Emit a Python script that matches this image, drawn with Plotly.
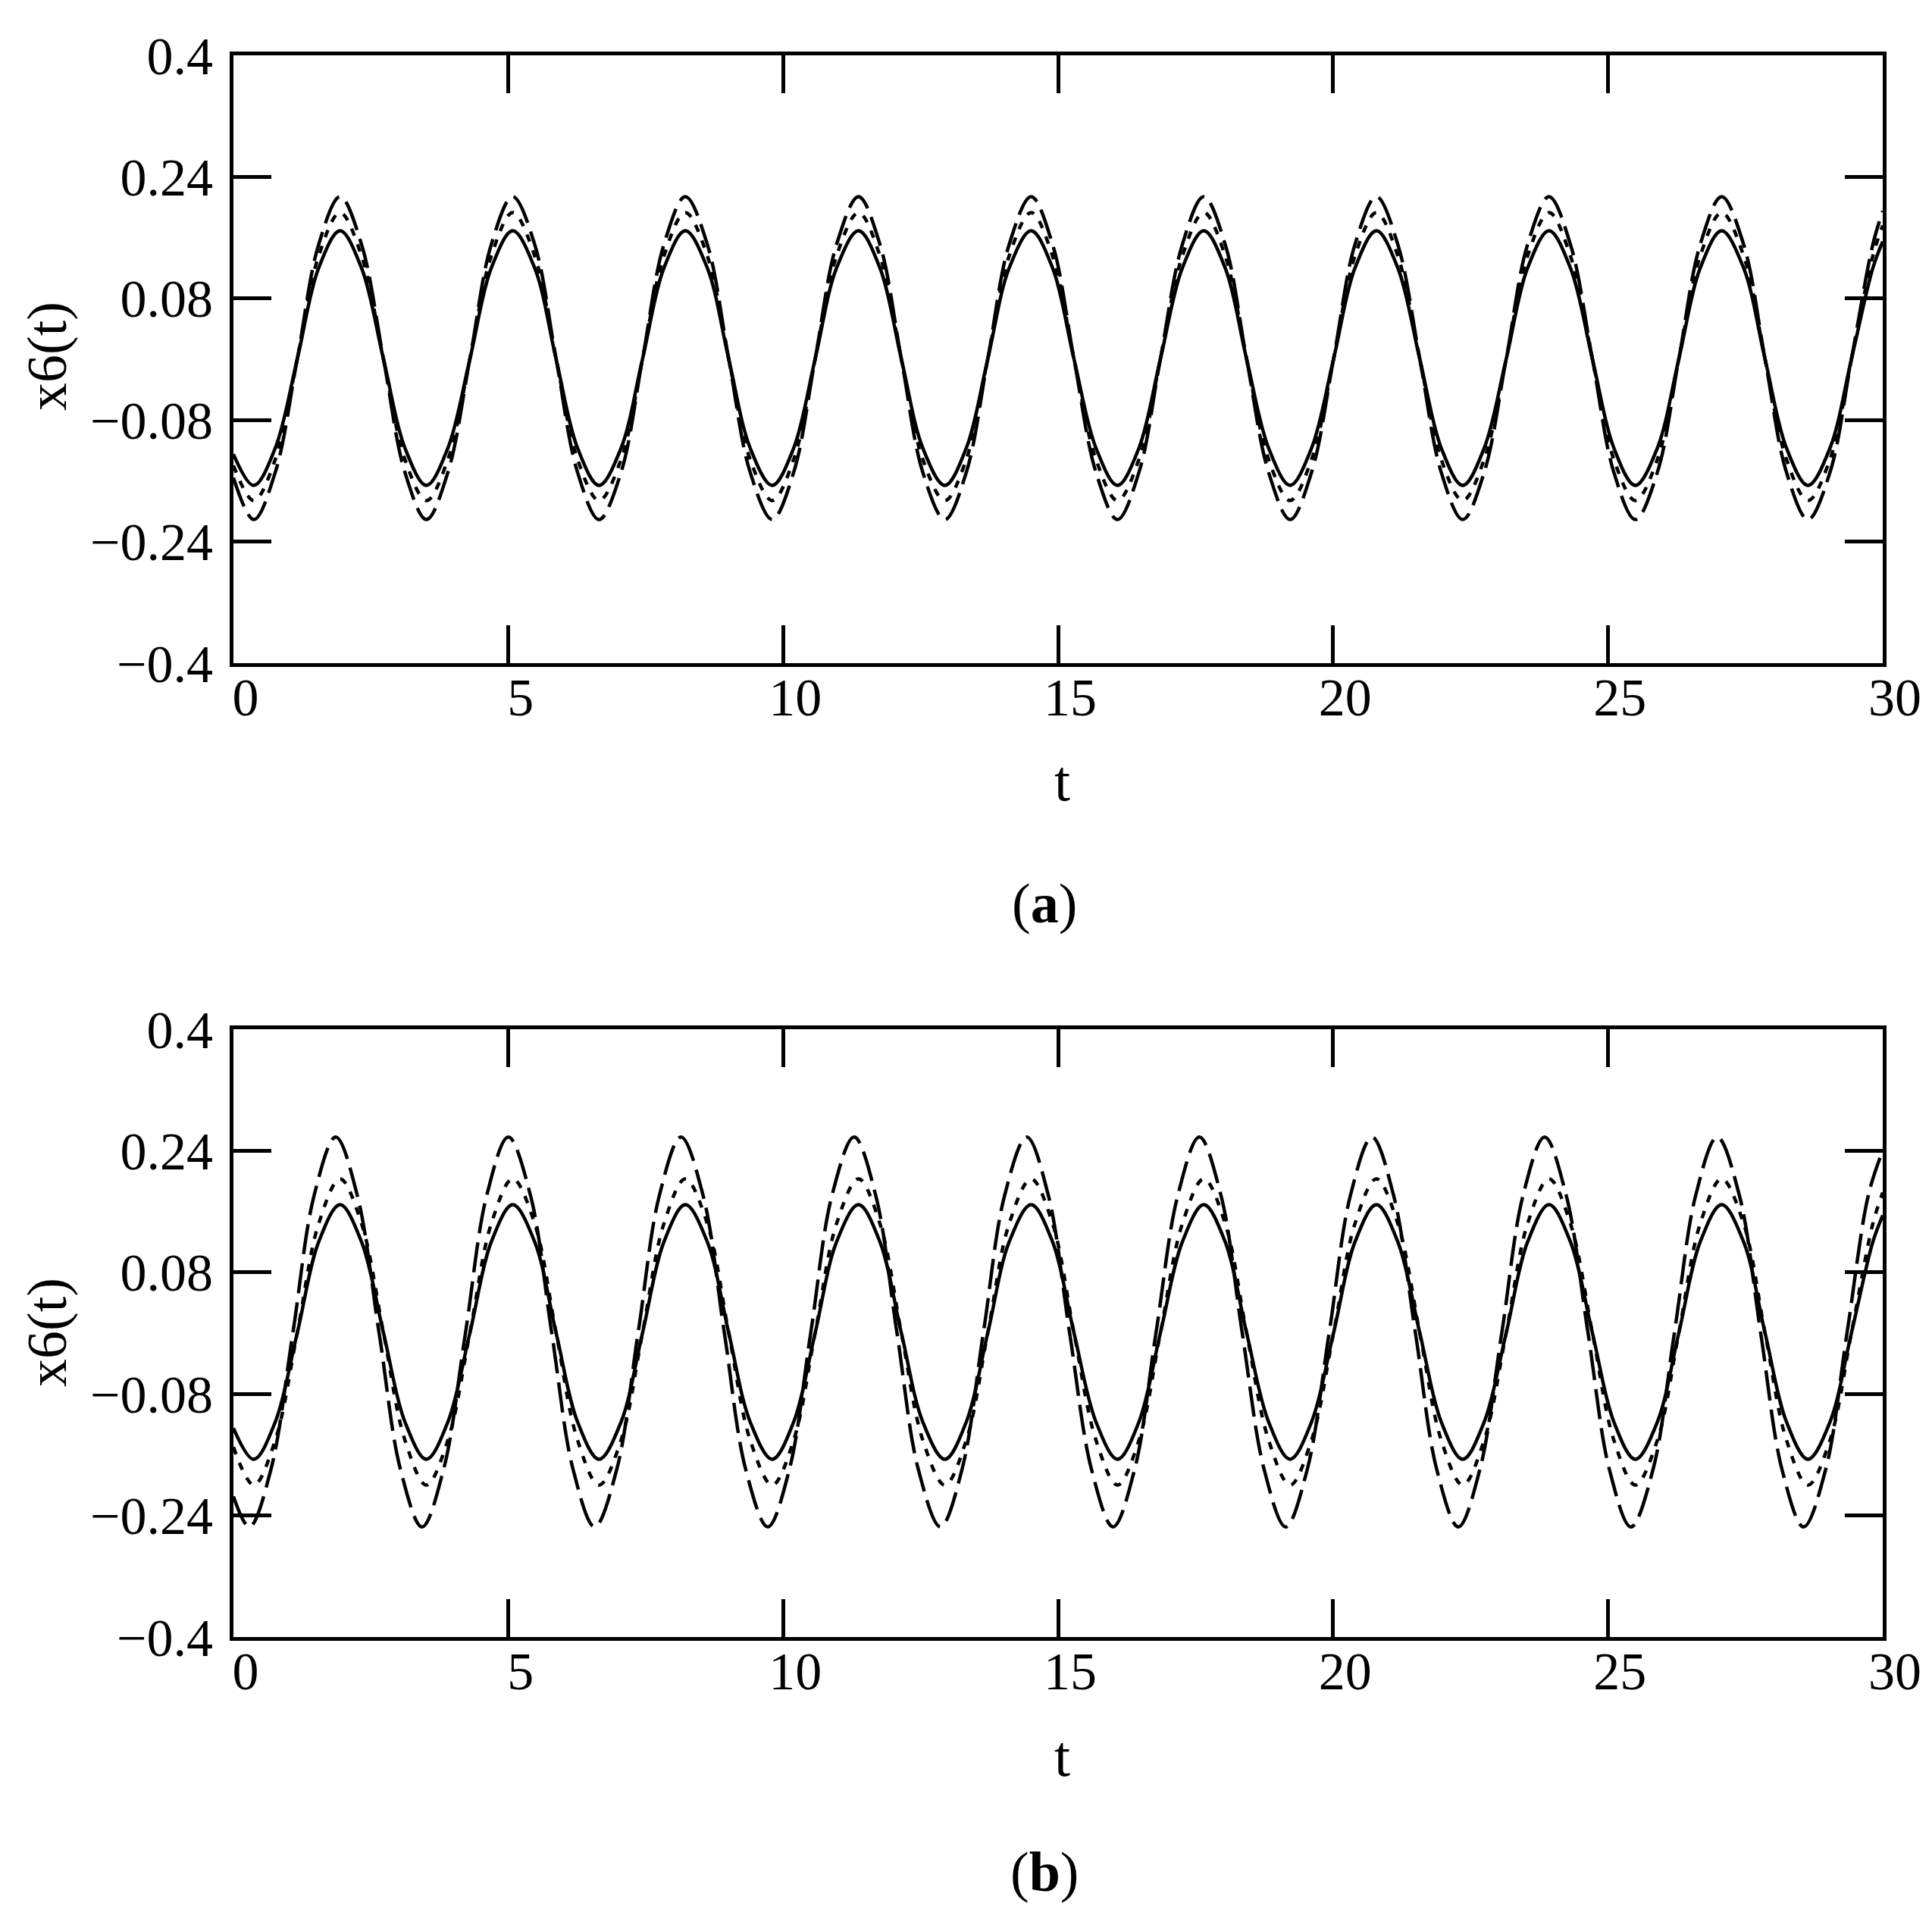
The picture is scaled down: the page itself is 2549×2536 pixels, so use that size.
import plotly.graph_objects as go

# ---- data (t = time, values of x6(t)) ----
t_common = [0.00,
            0.37, 0.76, 1.16, 1.55, 1.94, 2.33, 2.73, 3.12,
            3.51, 3.90, 4.30, 4.69, 5.08, 5.48, 5.87, 6.26,
            6.65, 7.05, 7.44, 7.83, 8.22, 8.62, 9.01, 9.40,
            9.80, 10.19, 10.58, 10.97, 11.37, 11.76, 12.15, 12.54,
            12.94, 13.33, 13.72, 14.11, 14.51, 14.90, 15.29, 15.69,
            16.08, 16.47, 16.86, 17.26, 17.65, 18.04, 18.43, 18.83,
            19.22, 19.61, 20.01, 20.40, 20.79, 21.18, 21.58, 21.97,
            22.36, 22.75, 23.15, 23.54, 23.93, 24.32, 24.72, 25.11,
            25.50, 25.90, 26.29, 26.68, 27.07, 27.47, 27.86, 28.25,
            28.64, 29.04, 29.43, 29.82,
            30.00]

t_b_dash = [0.00,
            0.29, 0.68, 1.08, 1.47, 1.86, 2.25, 2.65, 3.04,
            3.43, 3.82, 4.22, 4.61, 5.00, 5.40, 5.79, 6.18,
            6.57, 6.97, 7.36, 7.75, 8.14, 8.54, 8.93, 9.32,
            9.72, 10.11, 10.50, 10.89, 11.29, 11.68, 12.07, 12.46,
            12.86, 13.25, 13.64, 14.03, 14.43, 14.82, 15.21, 15.61,
            16.00, 16.39, 16.78, 17.18, 17.57, 17.96, 18.35, 18.75,
            19.14, 19.53, 19.93, 20.32, 20.71, 21.10, 21.50, 21.89,
            22.28, 22.67, 23.07, 23.46, 23.85, 24.24, 24.64, 25.03,
            25.42, 25.82, 26.21, 26.60, 26.99, 27.39, 27.78, 28.17,
            28.56, 28.96, 29.35, 29.74,
            30.00]

# panel (a)
a_solid = [-0.125,
           -0.166, -0.117, 0.00, 0.120, 0.169, 0.120, 0.00, -0.117,
           -0.166, -0.117, 0.00, 0.120, 0.169, 0.120, 0.00, -0.117,
           -0.166, -0.117, 0.00, 0.120, 0.169, 0.120, 0.00, -0.117,
           -0.166, -0.117, 0.00, 0.120, 0.169, 0.120, 0.00, -0.117,
           -0.166, -0.117, 0.00, 0.120, 0.169, 0.120, 0.00, -0.117,
           -0.166, -0.117, 0.00, 0.120, 0.169, 0.120, 0.00, -0.117,
           -0.166, -0.117, 0.00, 0.120, 0.169, 0.120, 0.00, -0.117,
           -0.166, -0.117, 0.00, 0.120, 0.169, 0.120, 0.00, -0.117,
           -0.166, -0.117, 0.00, 0.120, 0.169, 0.120, 0.00, -0.117,
           -0.166, -0.117, 0.00, 0.120,
           0.155]
a_dot = [-0.140,
         -0.186, -0.132, 0.00, 0.136, 0.193, 0.136, 0.00, -0.132,
         -0.186, -0.132, 0.00, 0.136, 0.193, 0.136, 0.00, -0.132,
         -0.186, -0.132, 0.00, 0.136, 0.193, 0.136, 0.00, -0.132,
         -0.186, -0.132, 0.00, 0.136, 0.193, 0.136, 0.00, -0.132,
         -0.186, -0.132, 0.00, 0.136, 0.193, 0.136, 0.00, -0.132,
         -0.186, -0.132, 0.00, 0.136, 0.193, 0.136, 0.00, -0.132,
         -0.186, -0.132, 0.00, 0.136, 0.193, 0.136, 0.00, -0.132,
         -0.186, -0.132, 0.00, 0.136, 0.193, 0.136, 0.00, -0.132,
         -0.186, -0.132, 0.00, 0.136, 0.193, 0.136, 0.00, -0.132,
         -0.186, -0.132, 0.00, 0.136,
         0.176]
a_dash = [-0.156,
          -0.211, -0.149, 0.00, 0.151, 0.214, 0.151, 0.00, -0.149,
          -0.211, -0.149, 0.00, 0.151, 0.214, 0.151, 0.00, -0.149,
          -0.211, -0.149, 0.00, 0.151, 0.214, 0.151, 0.00, -0.149,
          -0.211, -0.149, 0.00, 0.151, 0.214, 0.151, 0.00, -0.149,
          -0.211, -0.149, 0.00, 0.151, 0.214, 0.151, 0.00, -0.149,
          -0.211, -0.149, 0.00, 0.151, 0.214, 0.151, 0.00, -0.149,
          -0.211, -0.149, 0.00, 0.151, 0.214, 0.151, 0.00, -0.149,
          -0.211, -0.149, 0.00, 0.151, 0.214, 0.151, 0.00, -0.149,
          -0.211, -0.149, 0.00, 0.151, 0.214, 0.151, 0.00, -0.149,
          -0.211, -0.149, 0.00, 0.151,
          0.195]

# panel (b)
b_solid = [-0.125,
           -0.166, -0.117, 0.00, 0.120, 0.169, 0.120, 0.00, -0.117,
           -0.166, -0.117, 0.00, 0.120, 0.169, 0.120, 0.00, -0.117,
           -0.166, -0.117, 0.00, 0.120, 0.169, 0.120, 0.00, -0.117,
           -0.166, -0.117, 0.00, 0.120, 0.169, 0.120, 0.00, -0.117,
           -0.166, -0.117, 0.00, 0.120, 0.169, 0.120, 0.00, -0.117,
           -0.166, -0.117, 0.00, 0.120, 0.169, 0.120, 0.00, -0.117,
           -0.166, -0.117, 0.00, 0.120, 0.169, 0.120, 0.00, -0.117,
           -0.166, -0.117, 0.00, 0.120, 0.169, 0.120, 0.00, -0.117,
           -0.166, -0.117, 0.00, 0.120, 0.169, 0.120, 0.00, -0.117,
           -0.166, -0.117, 0.00, 0.120,
           0.155]
b_dot = [-0.150,
         -0.200, -0.141, 0.00, 0.144, 0.203, 0.144, 0.00, -0.141,
         -0.200, -0.141, 0.00, 0.144, 0.203, 0.144, 0.00, -0.141,
         -0.200, -0.141, 0.00, 0.144, 0.203, 0.144, 0.00, -0.141,
         -0.200, -0.141, 0.00, 0.144, 0.203, 0.144, 0.00, -0.141,
         -0.200, -0.141, 0.00, 0.144, 0.203, 0.144, 0.00, -0.141,
         -0.200, -0.141, 0.00, 0.144, 0.203, 0.144, 0.00, -0.141,
         -0.200, -0.141, 0.00, 0.144, 0.203, 0.144, 0.00, -0.141,
         -0.200, -0.141, 0.00, 0.144, 0.203, 0.144, 0.00, -0.141,
         -0.200, -0.141, 0.00, 0.144, 0.203, 0.144, 0.00, -0.141,
         -0.200, -0.141, 0.00, 0.144,
         0.185]
b_dash = [-0.215,
          -0.255, -0.180, 0.00, 0.182, 0.258, 0.182, 0.00, -0.180,
          -0.255, -0.180, 0.00, 0.182, 0.258, 0.182, 0.00, -0.180,
          -0.255, -0.180, 0.00, 0.182, 0.258, 0.182, 0.00, -0.180,
          -0.255, -0.180, 0.00, 0.182, 0.258, 0.182, 0.00, -0.180,
          -0.255, -0.180, 0.00, 0.182, 0.258, 0.182, 0.00, -0.180,
          -0.255, -0.180, 0.00, 0.182, 0.258, 0.182, 0.00, -0.180,
          -0.255, -0.180, 0.00, 0.182, 0.258, 0.182, 0.00, -0.180,
          -0.255, -0.180, 0.00, 0.182, 0.258, 0.182, 0.00, -0.180,
          -0.255, -0.180, 0.00, 0.182, 0.258, 0.182, 0.00, -0.180,
          -0.255, -0.180, 0.00, 0.182,
          0.240]

x_ticks = [0, 5, 10, 15, 20, 25, 30]
x_ticktext = ["0", "5", "10", "15", "20", "25", "30"]
y_ticks = [-0.4, -0.24, -0.08, 0.08, 0.24, 0.4]
y_ticktext = ["\u22120.4", "\u22120.24", "\u22120.08", "0.08", "0.24", "0.4"]

FONT = "Liberation Serif"
W, H = 2549, 2536
OFF = 8  # page body margin: figure starts 8 px in from the window edge

fig = go.Figure()

def add(x, y, dash, xa, ya):
    fig.add_trace(go.Scatter(x=x, y=y, mode="lines",
                             line=dict(color="black", width=4.5, dash=dash,
                                       shape="spline", smoothing=1.0),
                             xaxis=xa, yaxis=ya, showlegend=False,
                             hoverinfo="skip"))

add(t_common, a_solid, "solid", "x", "y")
add(t_common, a_dot, "10px,12px", "x", "y")
add(t_common, a_dash, "40px,12px", "x", "y")
add(t_common, b_solid, "solid", "x2", "y2")
add(t_common, b_dot, "10px,12px", "x2", "y2")
add(t_b_dash, b_dash, "40px,12px", "x2", "y2")

def px_x(p):
    return (p - OFF) / W

def px_y(p):
    return 1 - (p - OFF) / H

x_dom = [px_x(308), px_x(2484)]
ya_dom = [px_y(875), px_y(73)]
yb_dom = [px_y(2160), px_y(1358)]

xcommon = dict(range=[0, 30], tickvals=x_ticks, ticktext=x_ticktext,
               ticks="inside", ticklen=50, tickwidth=5, tickcolor="black",
               showline=True, linewidth=5, linecolor="black", mirror="ticks",
               showgrid=False, zeroline=False, automargin=False,
               tickfont=dict(family=FONT, size=70, color="black"),
               ticklabelstandoff=-20, ticklabelshift=16, domain=x_dom)
ycommon = dict(range=[-0.4, 0.4], tickvals=y_ticks, ticktext=y_ticktext,
               ticks="inside", ticklen=50, tickwidth=5, tickcolor="black",
               showline=True, linewidth=5, linecolor="black", mirror="ticks",
               showgrid=False, zeroline=False, automargin=False,
               tickfont=dict(family=FONT, size=70, color="black"),
               ticklabelstandoff=8)

fig.update_layout(
    template="none",
    width=W, height=H,
    margin=dict(l=0, r=0, t=0, b=0, pad=0),
    paper_bgcolor="white", plot_bgcolor="white",
    xaxis=dict(**xcommon, anchor="y"),
    yaxis=dict(**ycommon, domain=ya_dom, anchor="x"),
    xaxis2=dict(**xcommon, anchor="y2"),
    yaxis2=dict(**ycommon, domain=yb_dom, anchor="x2"),
)

def note(text, x_px, y_px, angle=0, size=72):
    fig.add_annotation(text=text, xref="paper", yref="paper",
                       x=px_x(x_px), y=px_y(y_px), showarrow=False,
                       xanchor="center", yanchor="middle", textangle=angle,
                       font=dict(family=FONT, size=size, color="black"))

note("t", 1401, 1030, size=76)
note("t", 1401, 2317, size=76)
note("(<b>a</b>)", 1378, 1192, size=74)
note("(<b>b</b>)", 1378, 2470, size=74)
note("x6(t)", 62, 470, angle=-90, size=74)
note("x6(t)", 62, 1758, angle=-90, size=74)

fig.write_html("out.html")
